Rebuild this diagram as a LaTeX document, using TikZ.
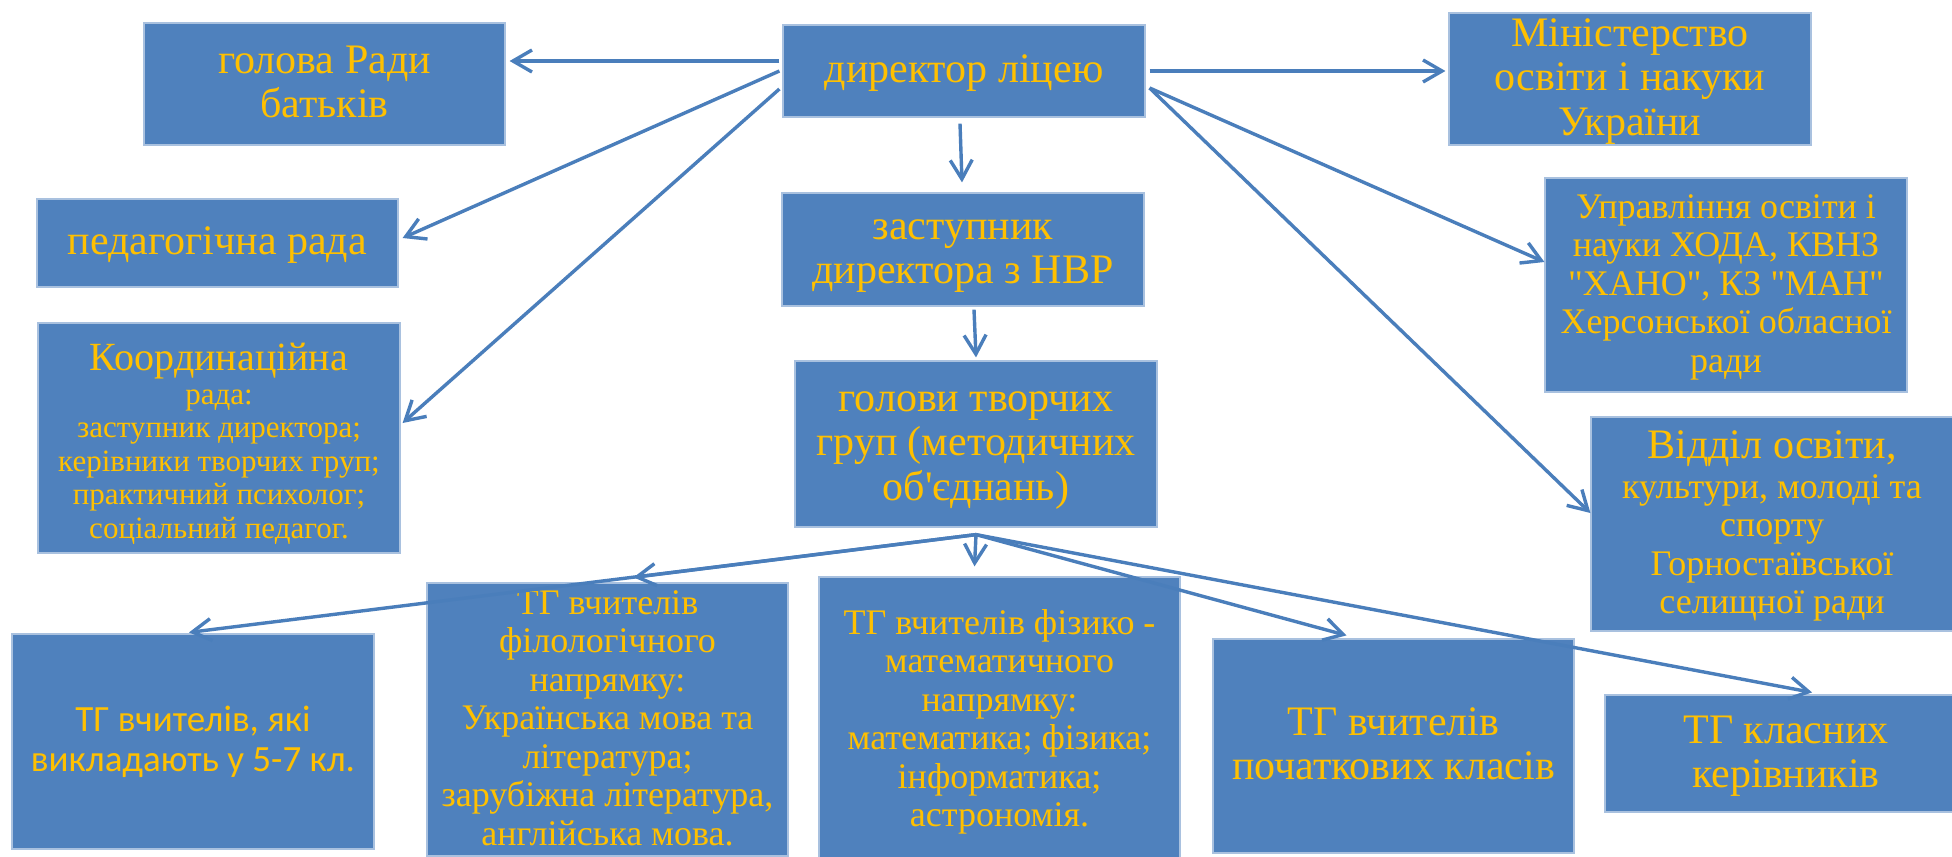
\documentclass[tikz,border=0pt]{standalone}
\usepackage{fontspec}
\setmainfont{Liberation Serif}[Ligatures=TeXOff]
\newfontfamily\calfont{Carlito}[Ligatures=TeXOff]
\usetikzlibrary{arrows.meta}
\definecolor{boxblue}{HTML}{4F81BD}
\definecolor{boxedge}{HTML}{A9C1DF}
\definecolor{lineblue}{HTML}{4A7EBB}
\definecolor{gold}{HTML}{FFC000}
\newcommand{\fbig}{\fontsize{21pt}{22.2pt}\selectfont}
\newcommand{\fmid}{\fontsize{18pt}{19.25pt}\selectfont}
\newcommand{\fsmall}{\fontsize{15.5pt}{16.75pt}\selectfont}
\newcommand{\topst}{\rule{0pt}{0.78em}}
\newcommand{\botst}{\rule[-0.22em]{0pt}{0.22em}}
\begin{document}
\begin{tikzpicture}[x=0.5pt,y=-0.5pt,
  box/.style={rectangle, fill=boxblue, draw=boxedge, line width=0.6pt, inner sep=0pt, align=center, text=gold, font=\fbig},
  conn/.style={draw=lineblue, line width=1.7pt, -{Straight Barb[length=9.5pt,width=11pt]}}]
\useasboundingbox (0,0) rectangle (1952,856);
\fill[white] (0,0) rectangle (1952,856);
\clip (0,0) rectangle (1952,856);

\node[box, minimum width=180.5pt, minimum height=61pt] (par) at (324.5,84) {\topst голова Ради\\батьків\botst};
\node[box, minimum width=180.5pt, minimum height=44pt] (ped) at (217.5,243) {\topst педагогічна рада\botst};
\node[box, minimum width=181pt, minimum height=115pt, font=\fsmall] (coord) at (219,438)
  {{\fontsize{20pt}{21pt}\selectfont\rule{0pt}{1em}Координаційна}\\
   рада:\\заступник директора;\\керівники творчих груп;\\практичний психолог;\\соціальний педагог.\botst};
\node[box, minimum width=181pt, minimum height=46pt] (dir) at (964,71) {\topst директор ліцею\botst};
\node[box, minimum width=181pt, minimum height=56.5pt] (zast) at (963,249.5) {\topst заступник\\директора з НВР\botst};
\node[box, minimum width=181pt, minimum height=83pt] (hol) at (976,444) {\topst голови творчих\\груп (методичних\\об'єднань)\botst};
\node[box, minimum width=181pt, minimum height=66pt] (min) at (1630,79) {\topst Міністерство\\освіти і накуки\\України\botst};
\node[box, minimum width=181pt, minimum height=107pt, font=\fmid] (upr) at (1726,285)
  {\topst Управління освіти і\\науки ХОДА, КВНЗ\\"ХАНО", КЗ "МАН"\\Херсонської обласної\\ради\botst};
\node[box, minimum width=181pt, minimum height=107pt, font=\fmid] (vid) at (1772,524)
  {{\fbig\topst Відділ освіти,}\\[0.5pt]культури, молоді та\\спорту\\Горностаївської\\селищної ради\botst};
\node[box, minimum width=181pt, minimum height=107.5pt, font=\calfont\fontsize{18.5pt}{20pt}\selectfont] (tg57) at (193,741.5)
  {\topst ТГ вчителів, які\\викладають у 5-7 кл.\botst};
\node[box, minimum width=180.5pt, minimum height=136.5pt, font=\fmid] (tgfil) at (607.5,719.5)
  {\topst ТГ вчителів\\філологічного\\напрямку:\\Українська мова та\\література;\\зарубіжна література,\\англійська мова.\botst};
\node[box, minimum width=180.5pt, minimum height=143.5pt, font=\fmid] (tgfm) at (999.5,720.5)
  {\topst ТГ вчителів фізико -\\математичного\\напрямку:\\математика; фізика;\\інформатика;\\астрономія.\botst};
\node[box, minimum width=180.5pt, minimum height=107pt] (tgpoch) at (1393.5,746) {\topst ТГ вчителів\\початкових класів\botst};
\node[box, minimum width=181pt, minimum height=58.5pt] (tgkl) at (1786,753.5) {\topst ТГ класних\\керівників\botst};

\draw[conn] ([shift={(-3,-10)}]dir.west) -- ([shift={(4,-23)}]par.east);
\draw[conn] ([shift={(-3,0)}]dir.west) -- ([shift={(4,-5)}]ped.east);
\draw[conn] ([shift={(-3,18)}]dir.west) -- ([shift={(2,-15)}]coord.east);
\draw[conn] ([shift={(-4,6)}]dir.south) -- ([shift={(-1,-10)}]zast.north);
\draw[conn] ([shift={(4,0)}]dir.east) -- ([shift={(-3,-8)}]min.west);
\draw[conn] ([shift={(4,17)}]dir.east) -- ([shift={(0,-23)}]upr.west);
\draw[conn] ([shift={(4,17)}]dir.east) -- ([shift={(0,-11)}]vid.west);
\draw[conn] ([shift={(11,3)}]zast.south) -- ([shift={(0,-3)}]hol.north);
\draw[conn] ([shift={(0,7)}]hol.south) -- ([shift={(-4,-1)}]tg57.north);
\draw[conn] ([shift={(0,7)}]hol.south) -- ([shift={(26,-5)}]tgfil.north);
\draw[conn] ([shift={(0,7)}]hol.south) -- ([shift={(-25,-10)}]tgfm.north);
\draw[conn] ([shift={(0,7)}]hol.south) -- ([shift={(-47,-3)}]tgpoch.north);
\draw[conn] ([shift={(0,7)}]hol.south) -- ([shift={(26,-2)}]tgkl.north);
\end{tikzpicture}
\end{document}
